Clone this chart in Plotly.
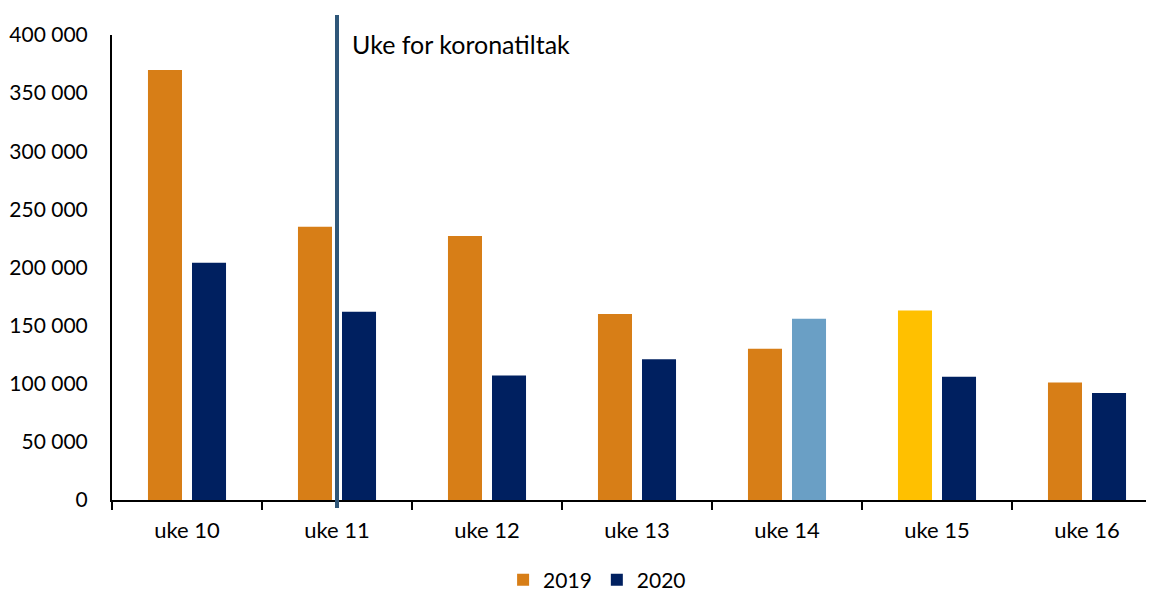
import plotly.graph_objects as go

categories = ["uke 10", "uke 11", "uke 12", "uke 13", "uke 14", "uke 15", "uke 16"]
values_2019 = [370000, 235000, 227000, 160000, 130000, 163000, 101000]
values_2020 = [204000, 162000, 107000, 121000, 156000, 106000, 92000]
y_ticks = [0, 50000, 100000, 150000, 200000, 250000, 300000, 350000, 400000]
y_ticklabels = ["0", "50 000", "100 000", "150 000", "200 000", "250 000", "300 000", "350 000", "400 000"]
marker_week = "uke 11"
marker_label = "Uke for koronatiltak"

ORANGE = "#D77E17"
NAVY = "#002060"
colors_2019 = [ORANGE] * 7
colors_2019[5] = "#FFC000"
colors_2020 = [NAVY] * 7
colors_2020[4] = "#6A9FC5"

FONT = "Lato"

fig = go.Figure()
fig.add_trace(go.Bar(x=categories, y=values_2019, name="2019",
                     marker=dict(color=colors_2019, line=dict(width=0))))
fig.add_trace(go.Bar(x=categories, y=values_2020, name="2020",
                     marker=dict(color=colors_2020, line=dict(width=0))))

fig.add_shape(type="line", xref="x", yref="paper",
              x0=marker_week, x1=marker_week, y0=-8 / 465, y1=485 / 465,
              line=dict(color="#2F5779", width=4), layer="above")
fig.add_annotation(xref="x", yref="paper", x=categories.index(marker_week), y=456 / 465,
                   text=marker_label, showarrow=False, xanchor="left", yanchor="middle",
                   xshift=13, font=dict(family=FONT, size=25, color="#000000"))

fig.update_layout(
    width=1154, height=591,
    paper_bgcolor="white", plot_bgcolor="white",
    margin=dict(l=104, r=0, t=27, b=99, autoexpand=False),
    barmode="group", bargap=0.413, bargroupgap=0.227,
    font=dict(family=FONT, size=21, color="#000000"),
    legend=dict(orientation="h", x=0.462, xanchor="center", yref="container",
                y=1 - 572 / 591, yanchor="middle",
                font=dict(family=FONT, size=21), traceorder="normal"),
    showlegend=True,
)
fig.update_xaxes(range=[-0.5, 6.5], showline=True, linecolor="#000000", linewidth=2,
                 ticks="outside", tickson="boundaries", ticklen=8, tickwidth=2,
                 tickcolor="#000000", showgrid=False, zeroline=False, automargin=False,
                 ticklabelstandoff=10, tickfont=dict(family=FONT, size=22))
fig.update_yaxes(range=[0, 400000], tickvals=y_ticks, ticktext=y_ticklabels,
                 showline=True, linecolor="#000000", linewidth=2, showgrid=False,
                 zeroline=False, ticks="", ticklabelstandoff=18, automargin=False,
                 tickfont=dict(family=FONT, size=21))

fig.write_html("out.html")
